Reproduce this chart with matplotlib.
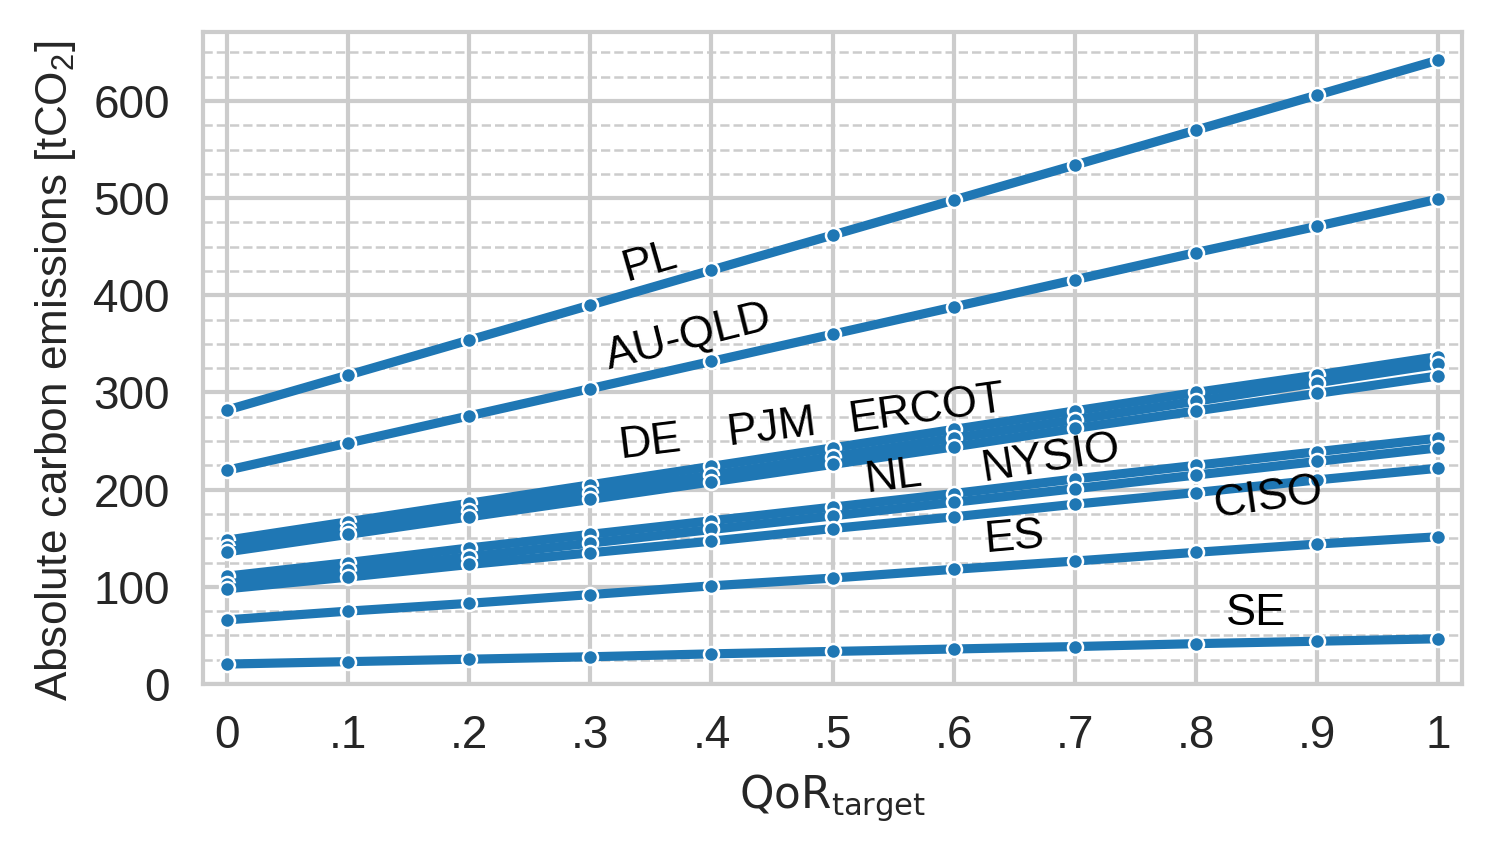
import matplotlib
matplotlib.use("Agg")
import matplotlib.pyplot as plt
import seaborn as sns
from matplotlib.ticker import MultipleLocator

sns.set_style("whitegrid")
plt.rcParams['font.family'] = ['Liberation Sans', 'DejaVu Sans']
plt.rcParams['mathtext.fontset'] = 'custom'
plt.rcParams['mathtext.rm'] = 'Liberation Sans'
plt.rcParams['mathtext.it'] = 'Liberation Sans:italic'

qor = [0, 0.1, 0.2, 0.3, 0.4, 0.5, 0.6, 0.7, 0.8, 0.9, 1.0]
qor_labels = ["0", ".1", ".2", ".3", ".4", ".5", ".6", ".7", ".8", ".9", "1"]

# emissions per region
pl = [282, 318, 354, 390, 426, 462, 498, 534, 570, 606, 642]
au_qld = [220, 248, 276, 304, 332, 360, 388, 416, 444, 471, 499]
ercot = [148, 167, 186, 205, 224, 243, 262, 281, 300, 318, 337]
pjm = [141, 160, 178, 197, 215, 234, 253, 272, 291, 310, 329]
de = [136, 154, 172, 190, 208, 226, 244, 263, 281, 299, 317]
nysio = [111, 125, 140, 154, 168, 182, 196, 211, 225, 239, 253]
nl = [103, 117, 131, 145, 159, 173, 187, 201, 215, 229, 243]
ciso = [98, 110, 123, 135, 147, 160, 172, 185, 197, 210, 222]
es = [66, 75, 83, 92, 101, 109, 118, 126.5, 135.5, 144, 151.5]
se = [20.5, 23, 25.5, 28, 31, 33.5, 36, 38.5, 41.5, 44, 46.5]

series = [pl, au_qld, ercot, pjm, de, nysio, nl, ciso, es, se]

# label text, position (x, y) and rotation
names = ["PL", "AU-QLD", "DE", "PJM", "ERCOT", "NL", "NYSIO", "CISO", "ES", "SE"]
name_x = [0.349, 0.381, 0.349, 0.45, 0.578, 0.55, 0.68, 0.86, 0.65, 0.85]
name_y = [434, 357, 248, 263, 282, 213, 232, 191, 150, 73]
name_rot = [16, 14, 7, 7, 8, 7, 9, 8, 5, 0]

fig = plt.figure(figsize=(1495/300, 861/300), dpi=300)
ax = fig.add_axes([0.1358, 0.2056, 0.978 - 0.1358, 0.9628 - 0.2056])

for s in series:
    ax.plot(qor, s, color='#1f77b4', linewidth=2.2, marker='o', markersize=3.6,
            markeredgecolor='white', markeredgewidth=0.6)

for n, x, y, r in zip(names, name_x, name_y, name_rot):
    ax.text(x, y, n, fontsize=10.8, color='black', rotation=r,
            ha='center', va='center', rotation_mode='anchor')

ax.set_xlim(-0.02, 1.02)
ax.set_ylim(0, 671)
ax.set_xticks(qor)
ax.set_xticklabels(qor_labels)
ax.yaxis.set_major_locator(MultipleLocator(100))
ax.yaxis.set_minor_locator(MultipleLocator(25))
ax.grid(which='major', color='#cccccc', linewidth=1.0)
ax.grid(which='minor', axis='y', color='#cccccc', linewidth=0.6, linestyle='--')
ax.tick_params(axis='y', which='major', labelsize=11, colors='.15', pad=4.5)
ax.tick_params(axis='x', which='major', labelsize=11, colors='.15', pad=3.8)
ax.tick_params(axis='both', which='minor', length=0)
for sp in ax.spines.values():
    sp.set_color('#cccccc')
    sp.set_linewidth(1.0)

ax.set_xlabel(r"$\mathrm{QoR}_{\mathrm{target}}$", fontsize=10.5, color='.15',
              math_fontfamily='dejavusans', labelpad=3.2)
ax.set_ylabel(r"Absolute carbon emissions [tCO$_{\mathrm{2}}$]", fontsize=10.6,
              color='.15', labelpad=3.6)
ax.yaxis.label.set_y(0.48)

fig.savefig("out.png", dpi=300)
